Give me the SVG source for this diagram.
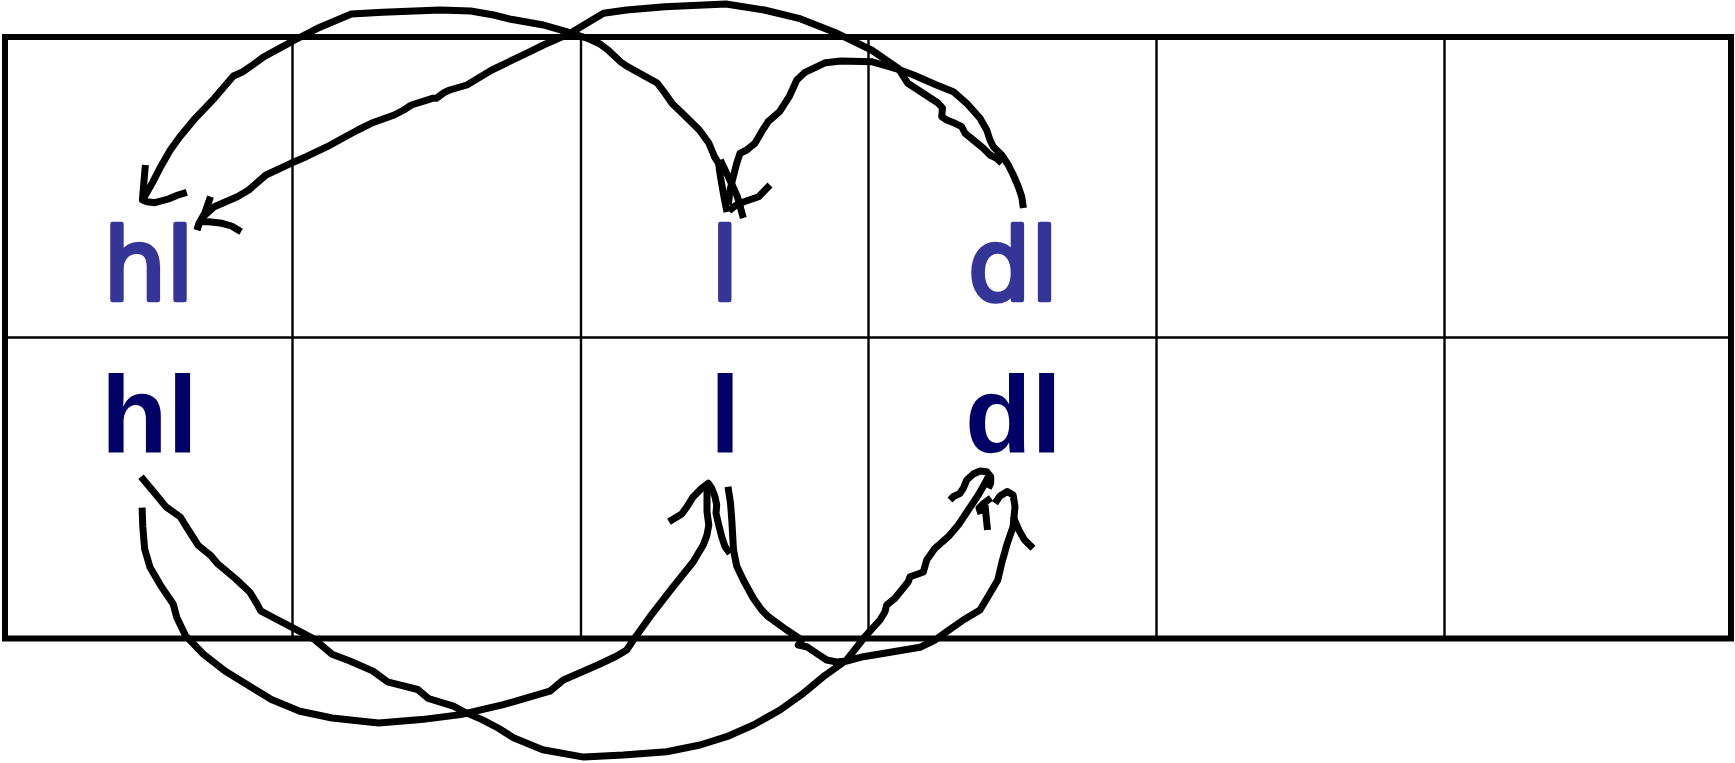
<svg xmlns="http://www.w3.org/2000/svg" width="1735" height="763" viewBox="0 0 1735 763">
<style>
.bg{fill:#ffffff}
.outer{fill:none;stroke:#000;stroke-width:6}
.inner{fill:none;stroke:#000;stroke-width:2.4}
.hand{font-family:"DejaVu Sans","Noto Sans",sans-serif;font-size:99px;fill:#353597;stroke:#353597;stroke-width:4.5;stroke-linejoin:round;stroke-linecap:round}
.print{font-family:"Liberation Sans",Arial,sans-serif;font-weight:bold;font-size:109px;fill:#000066}
.ink{fill:none;stroke:#000;stroke-width:7;stroke-linejoin:round;stroke-linecap:butt}
</style>
<rect class="bg" x="0" y="0" width="1735" height="763"/>
<g id="grid">
<line class="inner" x1="5" y1="337.5" x2="1731" y2="337.5"/>
<line class="inner" x1="292.5" y1="37" x2="292.5" y2="638"/>
<line class="inner" x1="581" y1="37" x2="581" y2="638"/>
<line class="inner" x1="868.5" y1="37" x2="868.5" y2="638"/>
<line class="inner" x1="1156.5" y1="37" x2="1156.5" y2="638"/>
<line class="inner" x1="1444.5" y1="37" x2="1444.5" y2="638"/>
<rect class="outer" x="5" y="37" width="1726" height="601.5"/>
</g>
<g id="node-hl-top"><text class="hand" x="103.5" y="300">hl</text></g>
<g id="node-l-top"><text class="hand" x="711" y="300">l</text></g>
<g id="node-dl-top"><text class="hand" x="968" y="300">dl</text></g>
<g id="node-hl-bottom"><text class="print" x="101" y="452">hl</text></g>
<g id="node-l-bottom"><text class="print" x="710" y="452">l</text></g>
<g id="node-dl-bottom"><text class="print" x="965" y="452">dl</text></g>
<g id="connectors">
<path class="ink" d="M727,212 L724,197 L720.5,177 L718.5,163 L714.6,157 L708.8,143 L699.3,130 L681,112 L672.5,104 L664.8,93 L657.2,83 L626.5,66 L620.8,62 L608,50 L600,44 L589.3,39 L566.4,31.7 L543.4,25 L511,19.3 L493.7,15 L470.7,11 L440,10 L382.7,12.3 L351.3,14 L333,21.7 L317.6,28.3 L294.7,40 L279.4,48.3 L264,56.7 L252.6,65 L243,71.7 L233.4,76 L214.3,98.3 L195.2,118.3 L179.9,136.7 L170.3,150 L160.7,166.7 L153,181.7 L145.4,195 L143,200"/>
<path class="ink" d="M145.4,165 L143.5,186.7 L142.4,200 L147,201.7 L155,202.7 L168.4,199 L178,195 L186.8,192.3"/>
<path class="ink" d="M720.3,160 L729.9,180 L737.5,197 L743.3,218"/>
<path class="ink" d="M1023.4,208 L1021.7,196.7 L1018.3,186.7 L1013.3,175 L1008.3,165 L1001.7,155 L993.3,146.7 L990,140 L986.7,130 L980,118.3 L966.7,103.3 L953.3,91.7 L936.5,85 L913.6,75 L898.3,69.3 L883,65 L871.5,61.7 L840.9,61 L825.5,62.7 L804.5,72.7 L796.8,80 L789.2,96.7 L779.6,111.7 L768.1,121.7 L761.7,131.7 L755,143.3 L746.7,150 L740,153.3 L736.7,163.3 L733.3,176.7 L730,190 L728.3,205"/>
<path class="ink" d="M770,185 L758.6,196.7 L743.3,202 L735,206 L729,210.7"/>
<path class="ink" d="M1001.7,163.3 L996.7,158.3 L990,155 L983.3,148.3 L973.3,140 L965,133.3 L961.7,126.7 L955,123.3 L946.7,120 L941.7,116.7 L942.5,108 L938,103 L907.8,83.3 L898.3,68.3 L871.5,50 L837,33.3 L798.8,18.3 L764.3,10 L726,4 L664.8,6.7 L626.5,10 L603.6,13.3 L589.3,21.7 L570.2,33.3 L543.4,45 L530,51.7 L491.8,70 L466.9,85 L449.7,90 L444,92.7 L436.3,98.3 L432.5,98.3 L411.4,105 L403.8,110 L394.2,115 L371.2,123.3 L357.8,130 L344.4,137.3 L327.2,146.7 L306.2,156.7 L290.9,163.3 L266,175 L260.2,180 L248.8,190 L237.3,196.7 L225.8,201.7 L214.3,206.7 L204,216 L199,224 L197,230"/>
<path class="ink" d="M210.5,196.7 L204.7,213.3 L199,223.3 L197,230"/>
<path class="ink" d="M200.9,221.7 L208.6,221.7 L222,223.3 L231.5,226 L241.1,231.7"/>
<path class="ink" d="M141,476.8 L153.6,491.8 L166,506.9 L180.3,517 L187.5,528.7 L198.2,545.4 L210.7,555.5 L217.8,563.9 L235.7,578.9 L249.9,592.3 L257.1,604.1 L260.7,610.8 L273.1,617.5 L289.2,625.8 L314.2,639.2 L332.1,654.3 L349.9,661 L373.1,671.1 L387.4,681.8 L417.7,689.5 L428.4,698.5 L453.4,706.2 L464.1,711.9 L482,719.6 L498.1,728 L514.1,738.1 L542.7,749.8 L583.7,757.1 L623.3,755 L666.7,751.7 L700,745 L726.7,736.7 L753.3,725 L780,710 L803.3,693.3 L823.3,676.7 L846.7,660 L865,636.7 L880,620 L885,611.7 L886.7,605 L895,598.3 L908.3,581.7 L910,576.7 L918,574 L923.3,572 L926.7,560 L935,548.3 L948.3,536.7 L958.3,525 L968.3,510 L978.3,495 L985,483.3 L988.3,476.7"/>
<path class="ink" d="M988.3,488.3 L990.7,483.3 L990.7,476.7 L986.7,471.7 L980,471 L973.3,474 L966.7,480 L963.3,488.3 L960,493.3 L953.3,496.7 L950,500"/>
<path class="ink" d="M981,514 L979,508 L984,503 L991,498"/>
<path class="ink" d="M985,505 L986.5,520 L987.5,530"/>
<path class="ink" d="M728,486.7 L730.5,503 L731.8,520 L733.5,550 L736.7,566 L743.3,580 L753.3,598.3 L761.7,610 L768.3,616.7 L786.7,630 L801.7,640 L798.3,645 L806.7,646.7 L816.7,653.3 L826.7,660 L836.7,662 L846.7,661 L863.3,656.7 L893.3,651.7 L920,647.3 L935,640 L946.7,631.7 L963.3,620 L980,610 L990,593.3 L997.8,580 L1002,562 L1007.3,543.3 L1013.1,526.7 L1015,506.7 L1013.1,495 L1007.3,491.5 L1000,496 L995,503.3"/>
<path class="ink" d="M1013.1,516.7 L1018.8,530 L1024.6,540 L1033,548.3"/>
<path class="ink" d="M142.1,507.6 L142.8,527 L144.6,548.8 L150,567.2 L160.7,585.6 L173.2,604 L176.8,617.5 L185.7,635.9 L203.5,654.3 L225,671 L271.4,699.5 L299.9,711.3 L332.1,718 L378.5,723 L421.3,719.6 L460.6,714.6 L503.4,704.6 L549.8,691.2 L563.3,680 L580,672.7 L600,664 L616.7,656 L626.7,650 L633.3,640 L650,616.7 L673.3,586.7 L693.3,561.7 L698.3,553.3 L703.3,545 L707,535 L708.8,525 L707,511.7 L707,490 L710,483"/>
<path class="ink" d="M669,521.7 L681.7,514 L687,506.7 L693.3,496.7 L701.7,488.3 L708.3,483.3 L711.7,488.3 L715,496.7 L716.7,505 L716,513.3 L718.3,523.3 L721.7,536.7 L725,546.7 L730,553.3"/>
</g>
</svg>
